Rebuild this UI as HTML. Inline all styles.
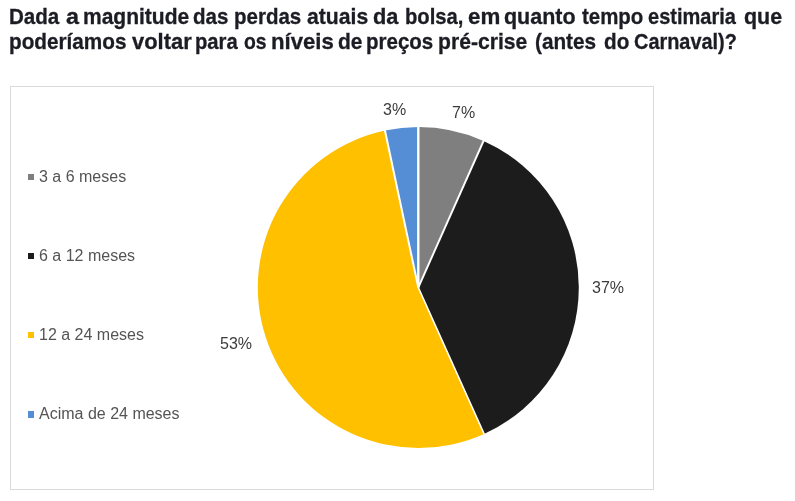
<!DOCTYPE html>
<html lang="pt">
<head>
<meta charset="utf-8">
<title>Pesquisa</title>
<style>
html,body{margin:0;padding:0;background:#fff;}
body{width:795px;height:501px;position:relative;overflow:hidden;font-family:"Liberation Sans",Arial,sans-serif;}
.title{position:absolute;left:0;top:0;margin:0;font-weight:bold;font-size:22px;line-height:25.5px;color:#1c1c24;white-space:nowrap;}
.w{position:absolute;display:block;transform-origin:0 0;-webkit-text-stroke:0.3px #1c1c24;}
.r1{top:3.8px;}
.r2{top:29.3px;}
.chart{position:absolute;left:10px;top:86px;width:642px;height:402px;border:1px solid #d9d9d9;background:#fff;}
svg{position:absolute;left:0;top:0;}
.lg{position:absolute;left:39px;font-size:16px;line-height:18px;color:#545454;white-space:nowrap;}
.mk{position:absolute;left:27.8px;width:6.4px;height:6.4px;}
.dl{position:absolute;font-size:16px;line-height:18px;color:#3c3c3c;white-space:nowrap;}
</style>
</head>
<body>
<h1 class="title"><span class="w r1" style="left:9.2px;transform:scaleX(0.935)">Dada</span> <span class="w r1" style="left:66.0px;transform:scaleX(1.061)">a</span> <span class="w r1" style="left:82.7px;transform:scaleX(0.955)">magnitude</span> <span class="w r1" style="left:193.0px;transform:scaleX(0.933)">das</span> <span class="w r1" style="left:233.5px;transform:scaleX(0.932)">perdas</span> <span class="w r1" style="left:306.6px;transform:scaleX(0.963)">atuais</span> <span class="w r1" style="left:373.1px;transform:scaleX(0.990)">da</span> <span class="w r1" style="left:404.7px;transform:scaleX(0.919)">bolsa,</span> <span class="w r1" style="left:468.4px;transform:scaleX(1.015)">em</span> <span class="w r1" style="left:504.4px;transform:scaleX(0.976)">quanto</span> <span class="w r1" style="left:581.8px;transform:scaleX(0.929)">tempo</span> <span class="w r1" style="left:648.3px;transform:scaleX(0.910)">estimaria</span> <span class="w r1" style="left:744.4px;transform:scaleX(0.974)">que</span>
<span class="w r2" style="left:9.2px;transform:scaleX(0.942)">poderíamos</span> <span class="w r2" style="left:131.6px;transform:scaleX(0.996)">voltar</span> <span class="w r2" style="left:195.3px;transform:scaleX(0.920)">para</span> <span class="w r2" style="left:243.9px;transform:scaleX(0.879)">os</span> <span class="w r2" style="left:271.2px;transform:scaleX(1.008)">níveis</span> <span class="w r2" style="left:337.9px;transform:scaleX(0.954)">de</span> <span class="w r2" style="left:366.4px;transform:scaleX(0.932)">preços</span> <span class="w r2" style="left:438.3px;transform:scaleX(0.961)">pré-crise</span> <span class="w r2" style="left:534.7px;transform:scaleX(0.943)">(antes</span> <span class="w r2" style="left:603.9px;transform:scaleX(0.940)">do</span> <span class="w r2" style="left:634.1px;transform:scaleX(0.905)">Carnaval)?</span></h1>
<div class="chart"></div>
<svg width="795" height="501" viewBox="0 0 795 501">
<path d="M418.3,287.5 L418.30,127.00 A160.5,160.5 0 0 1 483.58,140.88 Z" fill="#7f7f7f"/>
<path d="M418.3,287.5 L483.58,140.88 A160.5,160.5 0 0 1 484.09,433.90 Z" fill="#1c1c1c"/>
<path d="M418.3,287.5 L484.09,433.90 A160.5,160.5 0 1 1 384.93,130.51 Z" fill="#ffc000"/>
<path d="M418.3,287.5 L384.93,130.51 A160.5,160.5 0 0 1 418.30,127.00 Z" fill="#558ed5"/>
<g stroke="#fff" stroke-width="2.3" stroke-linecap="butt" fill="none">
<path stroke-width="2.4" d="M418.3,287.5 L418.30,125.50"/>
<path stroke-width="1.9" d="M418.3,287.5 L484.19,139.51"/>
<path stroke-width="1.7" d="M418.3,287.5 L484.71,435.26"/>
<path stroke-width="2.0" d="M418.3,287.5 L384.62,129.04"/>
</g>
</svg>
<div class="mk" style="top:173.7px;background:#7f7f7f"></div>
<div class="lg" id="g1" style="top:168px">3 a 6 meses</div>
<div class="mk" style="top:252.9px;background:#1c1c1c"></div>
<div class="lg" id="g2" style="top:247px">6 a 12 meses</div>
<div class="mk" style="top:332.1px;background:#ffc000"></div>
<div class="lg" id="g3" style="top:326px">12 a 24 meses</div>
<div class="mk" style="top:411.3px;background:#558ed5"></div>
<div class="lg" id="g4" style="top:405px">Acima de 24 meses</div>
<div class="dl" id="d1" style="left:383px;top:101px">3%</div>
<div class="dl" id="d2" style="left:452px;top:104px">7%</div>
<div class="dl" id="d3" style="left:592px;top:279px">37%</div>
<div class="dl" id="d4" style="left:220px;top:335px">53%</div>
</body>
</html>
